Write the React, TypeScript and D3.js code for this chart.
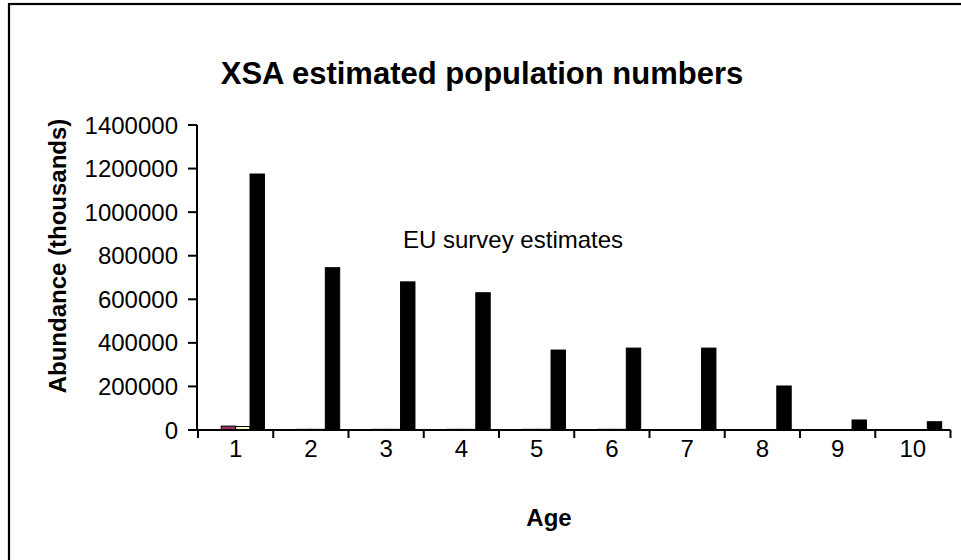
import React from "react";
import * as d3 from "d3";

// Age classes on the x axis
const ages = ["1", "2", "3", "4", "5", "6", "7", "8", "9", "10"];

// Abundance series (thousands), one value per age class
const seriesA = [0, 0, 0, 0, 0, 0, 0, 0, 0, 0];
const seriesB = [18000, 3000, 3000, 3000, 3000, 3000, 2000, 1000, 500, 500];
const seriesC = [16000, 3000, 3000, 3000, 3000, 3000, 2000, 1000, 500, 500];
const euSurvey = [1175000, 745000, 680000, 630000, 367000, 376000, 376000, 202000, 46000, 38000];

const seriesNames = ["A", "B", "C", "EU survey"];
const seriesColors = ["#9999FF", "#993366", "#FFFFCC", "#000000"];

const yTicks = [0, 200000, 400000, 600000, 800000, 1000000, 1200000, 1400000];

const FONT = "'Liberation Sans', Arial, sans-serif";

export default function App() {
  const width = 961;
  const height = 560;
  const left = 198;
  const right = 950.5;
  const top = 125;
  const bottom = 430;

  const x = d3.scaleBand<string>().domain(ages).range([left, right]).padding(0);
  const inner = d3
    .scaleBand<string>()
    .domain(seriesNames)
    .range([0, x.bandwidth()])
    .paddingInner(0)
    .paddingOuter(0.61);
  const y = d3.scaleLinear().domain([0, 1400000]).range([bottom, top]);

  const allSeries = [seriesA, seriesB, seriesC, euSurvey];

  return (
    <svg
      width={width}
      height={height}
      style={{ position: "absolute", left: 0, top: 0, background: "#fff" }}
      fontFamily={FONT}
    >
      <rect x={0} y={0} width={width} height={height} fill="#fff" />
      {/* chart frame */}
      <rect x={9} y={4} width={1000} height={600} fill="none" stroke="#000" strokeWidth={2.2} />

      <text x={482} y={84} textAnchor="middle" fontSize={31} fontWeight="bold" fill="#000">
        XSA estimated population numbers
      </text>

      {/* bars */}
      {allSeries.map((vals, si) =>
        vals.map((v, i) => {
          if (v <= 0) return null;
          const bx = (x(ages[i]) as number) + (inner(seriesNames[si]) as number);
          const by = y(v);
          return (
            <rect
              key={`${si}-${i}`}
              x={bx}
              y={by}
              width={inner.bandwidth()}
              height={bottom - by}
              fill={seriesColors[si]}
              stroke="#000"
              strokeWidth={1}
            />
          );
        })
      )}

      {/* y axis */}
      <line x1={left - 1} x2={left - 1} y1={top} y2={bottom} stroke="#000" strokeWidth={2} />
      {yTicks.map((t) => (
        <g key={t}>
          <line x1={left - 10} x2={left - 1} y1={y(t)} y2={y(t)} stroke="#000" strokeWidth={2} />
          <text x={178} y={y(t) + 8.5} textAnchor="end" fontSize={24} fill="#000">
            {t}
          </text>
        </g>
      ))}

      {/* x axis */}
      <line x1={left - 2} x2={right} y1={bottom} y2={bottom} stroke="#000" strokeWidth={2} />
      {ages.map((a, i) => (
        <line
          key={`t${a}`}
          x1={left + i * x.step() + (i === 0 ? 0 : 0)}
          x2={left + i * x.step()}
          y1={bottom}
          y2={bottom + 8}
          stroke="#000"
          strokeWidth={2}
        />
      ))}
      <line x1={right} x2={right} y1={bottom} y2={bottom + 8} stroke="#000" strokeWidth={2} />
      {ages.map((a) => (
        <text
          key={`l${a}`}
          x={(x(a) as number) + x.bandwidth() / 2}
          y={457}
          textAnchor="middle"
          fontSize={24}
          fill="#000"
        >
          {a}
        </text>
      ))}

      <text x={403} y={248} fontSize={24} fill="#000">
        EU survey estimates
      </text>

      <text x={549} y={526} textAnchor="middle" fontSize={24} fontWeight="bold" fill="#000">
        Age
      </text>
      <text
        transform="translate(66,256) rotate(-90)"
        textAnchor="middle"
        fontSize={24}
        fontWeight="bold"
        fill="#000"
      >
        Abundance (thousands)
      </text>
    </svg>
  );
}
